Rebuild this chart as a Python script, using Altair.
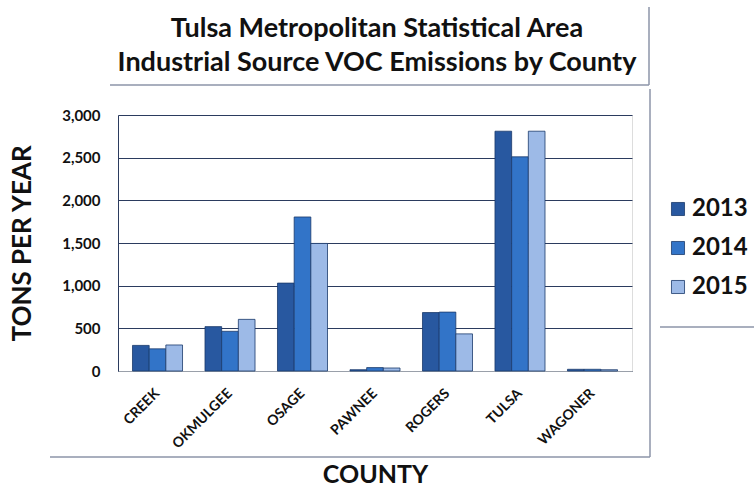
import altair as alt
import pandas as pd

counties = ["CREEK", "OKMULGEE", "OSAGE", "PAWNEE", "ROGERS", "TULSA", "WAGONER"]
years = ["2013", "2014", "2015"]
v2013 = [300, 520, 1030, 15, 685, 2810, 20]
v2014 = [260, 465, 1805, 40, 690, 2510, 20]
v2015 = [305, 605, 1495, 35, 435, 2810, 15]
colors = ["#2858a0", "#3274c8", "#9dbae7"]
y_ticks = [0, 500, 1000, 1500, 2000, 2500, 3000]
title_lines = ["Tulsa Metropolitan Statistical Area",
               "Industrial Source VOC Emissions by County"]

rows = []
for yr, vals in zip(years, [v2013, v2014, v2015]):
    for c, v in zip(counties, vals):
        rows.append({"county": c, "year": yr, "tons": v})
df = pd.DataFrame(rows)

FONT = "Lato"
W, H = 514, 256

bars = alt.Chart(df).mark_bar(stroke="#1b3a6b", strokeWidth=0.8).encode(
    x=alt.X("county:N", sort=counties,
            scale=alt.Scale(paddingInner=0.31, paddingOuter=0.2),
            axis=alt.Axis(title="COUNTY", labelAngle=-45, labelAlign="right",
                          labelBaseline="middle", labelPadding=20, tickSize=0,
                          labelFont=FONT, labelFontSize=14, labelFontWeight="bold",
                          labelColor="#111111", domainColor="#9aa0aa",
                          titleFont=FONT, titleFontSize=25, titleFontWeight="bold",
                          titleColor="#111111", titleY=103, titleBaseline="middle")),
    xOffset=alt.XOffset("year:N", sort=years, scale=alt.Scale(paddingInner=0, paddingOuter=0)),
    y=alt.Y("tons:Q", scale=alt.Scale(domain=[0, 3000], nice=False),
            axis=alt.Axis(title="TONS PER YEAR", values=y_ticks, format=",d",
                          tickSize=0, labelPadding=18, labelFont=FONT,
                          labelFontSize=15, labelFontWeight="bold", labelColor="#111111",
                          gridColor="#2b3b5e", gridWidth=1, domainColor="#2b3b5e",
                          titleFont=FONT, titleFontSize=26, titleFontWeight="bold",
                          titleColor="#111111", titleX=-96, titleY=128,
                          titleAngle=-90, titleAlign="center", titleBaseline="middle")),
    color=alt.Color("year:N", sort=years,
                    scale=alt.Scale(domain=years, range=colors),
                    legend=alt.Legend(title=None, orient="none", legendX=548, legendY=82,
                                      symbolType="square", symbolSize=170,
                                      symbolStrokeColor="#1b3a6b", symbolStrokeWidth=0.8,
                                      labelFont=FONT, labelFontSize=24,
                                      labelFontWeight="bold", labelColor="#111111",
                                      rowPadding=15, labelOffset=2)),
)

one = pd.DataFrame({"k": [0]})
frame_color = "#8d95a8"


def seg(x, x2, y, y2):
    return alt.Chart(one).mark_rule(color=frame_color, strokeWidth=1.5).encode(
        x=alt.value(x), x2=alt.value(x2), y=alt.value(y), y2=alt.value(y2))


def title_text(txt, y):
    return alt.Chart(one).mark_text(
        font=FONT, fontSize=27, fontWeight="bold", color="#111111",
        align="center", baseline="alphabetic").encode(
        x=alt.value(259), y=alt.value(y), text=alt.value(txt))


frames = [
    seg(-8, 531, -30, -30),     # title box bottom
    seg(531, 531, -108, -30),   # title box right
    seg(532, 532, -26, 342),    # plot box right
    seg(-68, 532, 342, 342),    # plot box bottom
    seg(542, 636, 212, 212),    # legend box bottom
]

titles = [title_text(title_lines[0], -78), title_text(title_lines[1], -44)]

chart = alt.layer(bars, *frames, *titles).properties(
    width=W, height=H,
    autosize=alt.AutoSizeParams(type="none"),
    padding={"left": 118, "top": 115, "right": 754 - 118 - W, "bottom": 489 - 115 - H},
).configure_view(stroke=None).configure(background="white")

chart.save("out.html", embed_options={"renderer": "svg", "actions": False})
